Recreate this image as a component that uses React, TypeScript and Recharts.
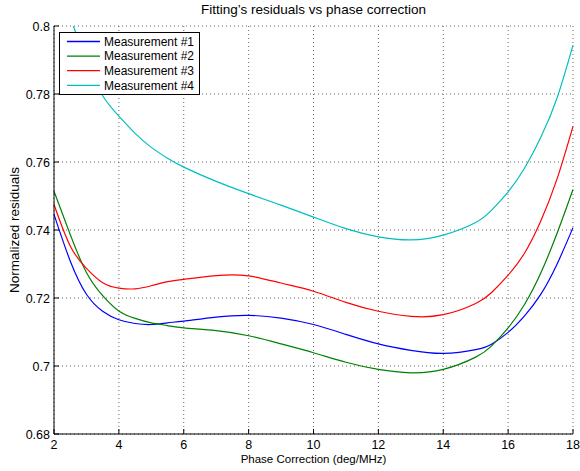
import { LineChart, Line, XAxis, YAxis, CartesianGrid, Legend } from 'recharts';

const phase = [2, 2.5, 3, 3.5, 4, 4.5, 5, 5.5, 6, 7, 8, 9, 10, 11, 12, 13, 14, 15, 15.5, 16, 16.5, 17, 17.5, 18];

const meas1 = [0.7446, 0.7309, 0.7211, 0.7161, 0.7136, 0.7125, 0.7122, 0.7127, 0.7132, 0.7144, 0.7149, 0.7141, 0.7122, 0.7093, 0.7065, 0.7046, 0.7037, 0.7048, 0.7065, 0.7099, 0.7147, 0.721, 0.7298, 0.7407];
const meas2 = [0.7514, 0.7387, 0.7275, 0.7207, 0.7162, 0.714, 0.7127, 0.7119, 0.7112, 0.7104, 0.7089, 0.7065, 0.7039, 0.7011, 0.699, 0.698, 0.699, 0.7026, 0.706, 0.7112, 0.718, 0.7272, 0.7388, 0.7519];
const meas3 = [0.7475, 0.7353, 0.7287, 0.7245, 0.7229, 0.7227, 0.7236, 0.7248, 0.7255, 0.7266, 0.7265, 0.7244, 0.722, 0.7187, 0.7161, 0.7146, 0.7151, 0.7184, 0.7217, 0.7267, 0.7331, 0.7425, 0.7548, 0.7705];
const meas4 = [0.818, 0.8028, 0.7895, 0.7795, 0.7735, 0.7684, 0.7643, 0.7611, 0.7585, 0.7543, 0.7507, 0.7473, 0.7438, 0.7404, 0.738, 0.7371, 0.7385, 0.7422, 0.7459, 0.7512, 0.7581, 0.7671, 0.7786, 0.7944];

const xTicks = [2, 4, 6, 8, 10, 12, 14, 16, 18];
const yTicks = [0.68, 0.7, 0.72, 0.74, 0.76, 0.78, 0.8];

const series = [
  { key: 'm1', name: 'Measurement #1', color: '#0000ff' },
  { key: 'm2', name: 'Measurement #2', color: '#008000' },
  { key: 'm3', name: 'Measurement #3', color: '#ff0000' },
  { key: 'm4', name: 'Measurement #4', color: '#00bfbf' },
];

const data = phase.map((x, i) => ({ x, m1: meas1[i], m2: meas2[i], m3: meas3[i], m4: meas4[i] }));

const FONT = '"Liberation Sans", Arial, Helvetica, sans-serif';

const BottomTick = (props: any) => {
  const { x, y, payload } = props;
  return (
    <g>
      <line x1={x} y1={y} x2={x} y2={y - 5} stroke="#000" />
      <text x={x} y={y + 15} textAnchor="middle" fontSize={12.5} fontFamily={FONT} fill="#000">
        {payload.value}
      </text>
    </g>
  );
};

const LeftTick = (props: any) => {
  const { x, y, payload } = props;
  return (
    <g>
      <line x1={x} y1={y} x2={x + 5} y2={y} stroke="#000" />
      <text x={x - 4} y={y + 4.5} textAnchor="end" fontSize={12.5} fontFamily={FONT} fill="#000">
        {String(Number(Number(payload.value).toFixed(2)))}
      </text>
    </g>
  );
};

const TopTick = (props: any) => {
  const { x, y } = props;
  return <line x1={x} y1={y} x2={x} y2={y + 5} stroke="#000" />;
};

const RightTick = (props: any) => {
  const { x, y } = props;
  return <line x1={x} y1={y} x2={x - 5} y2={y} stroke="#000" />;
};

const LegendBox = (props: any) => {
  const items = props.payload || [];
  return (
    <svg width={142} height={64} style={{ display: 'block' }}>
      <rect x={0.5} y={0.5} width={140} height={62} fill="#fff" stroke="#000" />
      {items.map((it: any, i: number) => (
        <g key={it.value}>
          <line x1={8} x2={41} y1={9.5 + i * 14.6} y2={9.5 + i * 14.6} stroke={it.color} strokeWidth={1.3} />
          <text x={45} y={13.8 + i * 14.6} fontSize={12} fontFamily={FONT} fill="#000">
            {it.value}
          </text>
        </g>
      ))}
    </svg>
  );
};

export default function App() {
  return (
    <div style={{ position: 'absolute', left: 0, top: 0, width: 580, height: 471, background: '#fff', fontFamily: FONT }}>
      <div style={{ position: 'absolute', left: 54, width: 519, top: 2, textAlign: 'center', fontSize: 13.5, color: '#000' }}>
        Fitting’s residuals vs phase correction
      </div>
      <div
        style={{
          position: 'absolute',
          left: 14,
          top: 230,
          transform: 'translate(-50%, -50%) rotate(-90deg)',
          whiteSpace: 'nowrap',
          fontSize: 13.5,
          color: '#000',
        }}
      >
        Normalized residuals
      </div>
      <div style={{ position: 'absolute', left: 54, width: 519, top: 453, textAlign: 'center', fontSize: 11.5, color: '#000' }}>
        Phase Correction (deg/MHz)
      </div>
      <LineChart width={580} height={471} data={data} margin={{ top: 26, right: 7, bottom: 0, left: 0 }}>
        <CartesianGrid stroke="#666" strokeDasharray="1 3" />
        <XAxis
          dataKey="x"
          type="number"
          domain={[2, 18]}
          ticks={xTicks}
          height={37}
          tickSize={0}
          tickMargin={0}
          tickLine={false}
          tick={<BottomTick />}
          stroke="#000"
          interval={0}
        />
        <XAxis
          xAxisId="top"
          dataKey="x"
          type="number"
          orientation="top"
          domain={[2, 18]}
          ticks={xTicks}
          height={0}
          tickSize={0}
          tickMargin={0}
          tickLine={false}
          tick={<TopTick />}
          stroke="#000"
          interval={0}
        />
        <YAxis
          type="number"
          domain={[0.68, 0.8]}
          allowDataOverflow
          ticks={yTicks}
          width={54}
          tickSize={0}
          tickMargin={0}
          tickLine={false}
          tick={<LeftTick />}
          stroke="#000"
          interval={0}
        />
        <YAxis
          yAxisId="right"
          orientation="right"
          type="number"
          domain={[0.68, 0.8]}
          ticks={yTicks}
          width={0}
          tickSize={0}
          tickMargin={0}
          tickLine={false}
          tick={<RightTick />}
          stroke="#000"
          interval={0}
        />
        <Legend
          layout="horizontal"
          verticalAlign="middle"
          align="center"
          content={<LegendBox />}
          wrapperStyle={{ position: 'absolute', top: 32, left: 59, width: 142, height: 64 }}
        />
        {series.map((s) => (
          <Line
            key={s.key}
            dataKey={s.key}
            name={s.name}
            type="natural"
            stroke={s.color}
            strokeWidth={1.2}
            dot={false}
            activeDot={false}
            isAnimationActive={false}
          />
        ))}
      </LineChart>
    </div>
  );
}
